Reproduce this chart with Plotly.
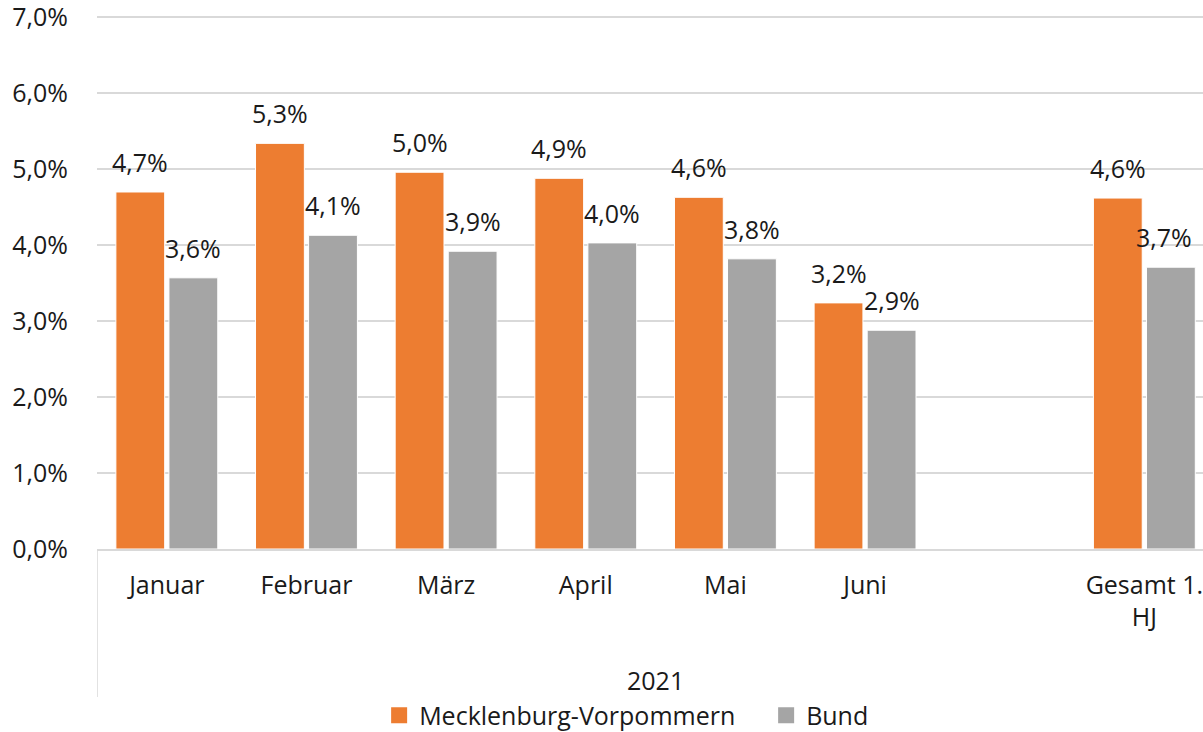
import plotly.graph_objects as go

categories = ["Januar", "Februar", "März", "April", "Mai", "Juni", " ", "Gesamt 1.<br>HJ"]
mv_values = [0.0470, 0.0534, 0.0496, 0.0488, 0.0463, 0.0324, None, 0.0462]
bund_values = [0.0357, 0.0413, 0.0392, 0.0403, 0.0382, 0.0288, None, 0.0371]
group_label = "2021"
series_names = ["Mecklenburg-Vorpommern", "Bund"]
y_ticks = [0, 0.01, 0.02, 0.03, 0.04, 0.05, 0.06, 0.07]

ORANGE = "#ED7D31"
GRAY = "#A5A5A5"
FONT = "Open Sans"
FS = 25
TXT = "#1a1a1a"
BARGAP = 0.24
BARGROUPGAP = 0.08

fig = go.Figure()
for name, vals, col in [(series_names[0], mv_values, ORANGE), (series_names[1], bund_values, GRAY)]:
    fig.add_trace(go.Bar(
        x=categories, y=vals, name=name, showlegend=False,
        marker=dict(color=col, line=dict(color="white", width=1)),
        hoverinfo="skip",
    ))
# legend entries with larger square swatches
for name, col in [(series_names[0], ORANGE), (series_names[1], GRAY)]:
    fig.add_trace(go.Scatter(
        x=[None], y=[None], mode="markers", name=name,
        marker=dict(symbol="square", size=16, color=col), hoverinfo="skip",
    ))

# data labels above bars
half = (1 - BARGAP) / 4
n = len(categories)
for k, vals in enumerate([mv_values, bund_values]):
    sign = -1 if k == 0 else 1
    for i, v in enumerate(vals):
        if v is None:
            continue
        label = f"{v*100:.1f}%".replace(".", ",")
        xs = -7 if (k == 1 and i == n - 1) else 0
        fig.add_annotation(x=i + sign * half, y=v, xref="x", yref="y",
                           text=label, showarrow=False, yanchor="middle",
                           yshift=30, xshift=xs, font=dict(family=FONT, size=FS, color=TXT))

fig.add_annotation(x=3.5, y=-0.245, xref="x", yref="paper", text=group_label,
                   showarrow=False, yanchor="middle",
                   font=dict(family=FONT, size=FS, color=TXT))
fig.add_shape(type="line", xref="x", yref="paper", x0=-0.5, x1=-0.5, y0=0, y1=-0.277,
              line=dict(color="#d9d9d9", width=1.5))

fig.update_layout(
    width=1203, height=732,
    margin=dict(l=97, r=0, t=15, b=183, autoexpand=False),
    plot_bgcolor="white", paper_bgcolor="white",
    barmode="group", bargap=BARGAP, bargroupgap=BARGROUPGAP,
    separators=",.",
    font=dict(family=FONT, size=FS, color=TXT),
    showlegend=True,
    legend=dict(orientation="h", x=0.605, xanchor="center", y=-0.312, yanchor="middle",
                font=dict(family=FONT, size=FS, color=TXT), traceorder="normal",
                entrywidth=342, itemclick=False, itemdoubleclick=False),
    xaxis=dict(type="category", range=[-0.5, 7.42], showgrid=False, ticks="",
               showline=True, linecolor="#d9d9d9", linewidth=1.5, automargin=False,
               ticklabelstandoff=13, tickfont=dict(family=FONT, size=FS, color=TXT)),
    yaxis=dict(range=[0, 0.0703], tickvals=y_ticks, tickformat=".1%",
               showgrid=True, gridcolor="#d9d9d9", gridwidth=1.5, automargin=False,
               zeroline=False, showline=False, ticks="", ticklabeloverflow="allow",
               ticklabelstandoff=28, tickfont=dict(family=FONT, size=FS, color=TXT)),
)

fig.write_html("out.html", config={"displayModeBar": False},
               post_script="document.body.style.margin='0';")
